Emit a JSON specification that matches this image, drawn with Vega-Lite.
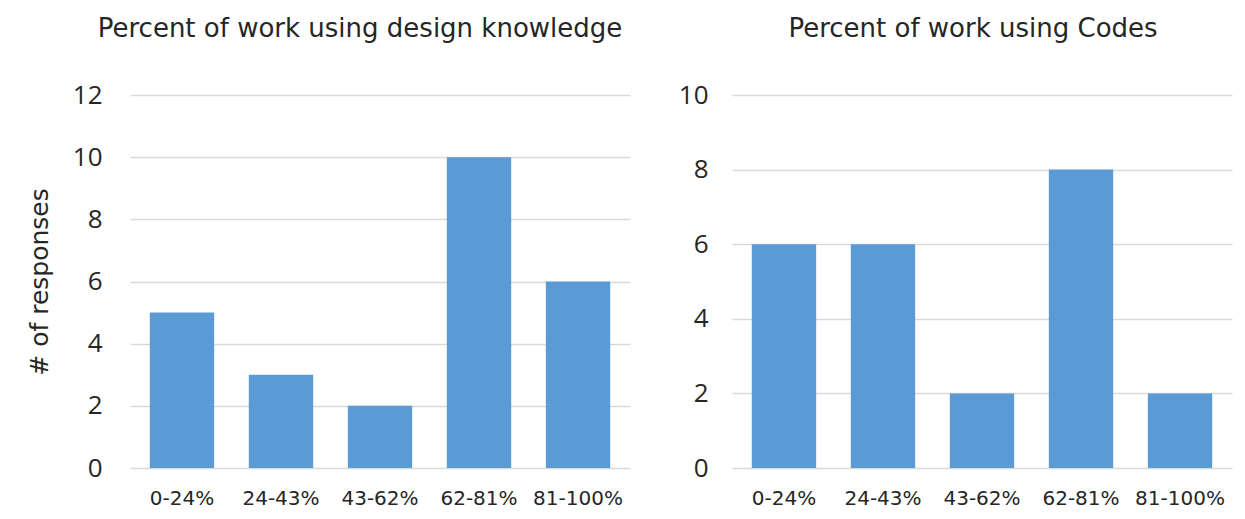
{
  "$schema": "https://vega.github.io/schema/vega-lite/v6.json",
  "padding": {"left": 27, "top": 16, "right": 5, "bottom": 5},
  "background": "white",
  "spacing": 48,
  "datasets": {
    "design": [
      {"range": "0-24%", "responses": 5},
      {"range": "24-43%", "responses": 3},
      {"range": "43-62%", "responses": 2},
      {"range": "62-81%", "responses": 10},
      {"range": "81-100%", "responses": 6}
    ],
    "codes": [
      {"range": "0-24%", "responses": 6},
      {"range": "24-43%", "responses": 6},
      {"range": "43-62%", "responses": 2},
      {"range": "62-81%", "responses": 8},
      {"range": "81-100%", "responses": 2}
    ]
  },
  "config": {
    "view": {"stroke": null},
    "font": "DejaVu Sans",
    "axis": {
      "grid": true,
      "gridColor": "#d9d9d9",
      "gridWidth": 1.5,
      "domain": false,
      "ticks": false
    },
    "title": {
      "font": "DejaVu Sans",
      "fontSize": 26,
      "fontWeight": "normal",
      "color": "#262626",
      "offset": 40
    }
  },
  "hconcat": [
    {
      "width": 500,
      "height": 373,
      "data": {"name": "design"},
      "title": {"text": "Percent of work using design knowledge", "dx": -20},
      "mark": {"type": "bar", "color": "#5b9bd5"},
      "encoding": {
        "x": {
          "field": "range", "type": "nominal", "sort": null,
          "scale": {"paddingInner": 0.35, "paddingOuter": 0.2},
          "axis": {"title": null, "labelAngle": 0, "grid": false, "labelFontSize": 20, "labelColor": "#262626", "labelPadding": 20, "labelFont": "DejaVu Sans"}
        },
        "y": {
          "field": "responses", "type": "quantitative",
          "scale": {"domain": [0, 12]},
          "axis": {"values": [0, 2, 4, 6, 8, 10, 12], "title": "# of responses", "titleFontSize": 25, "titleFontWeight": "normal", "titleColor": "#262626", "titleFont": "DejaVu Sans", "titlePadding": 20, "labelFontSize": 26, "labelColor": "#262626", "labelFont": "Open Sans", "labelPadding": 28}
        }
      }
    },
    {
      "width": 500,
      "height": 373,
      "data": {"name": "codes"},
      "title": {"text": "Percent of work using Codes", "dx": -9},
      "mark": {"type": "bar", "color": "#5b9bd5"},
      "encoding": {
        "x": {
          "field": "range", "type": "nominal", "sort": null,
          "scale": {"paddingInner": 0.35, "paddingOuter": 0.2},
          "axis": {"title": null, "labelAngle": 0, "grid": false, "labelFontSize": 20, "labelColor": "#262626", "labelPadding": 20, "labelFont": "DejaVu Sans"}
        },
        "y": {
          "field": "responses", "type": "quantitative",
          "scale": {"domain": [0, 10]},
          "axis": {"values": [0, 2, 4, 6, 8, 10], "title": null, "labelFontSize": 26, "labelColor": "#262626", "labelFont": "Open Sans", "labelPadding": 24}
        }
      }
    }
  ]
}
